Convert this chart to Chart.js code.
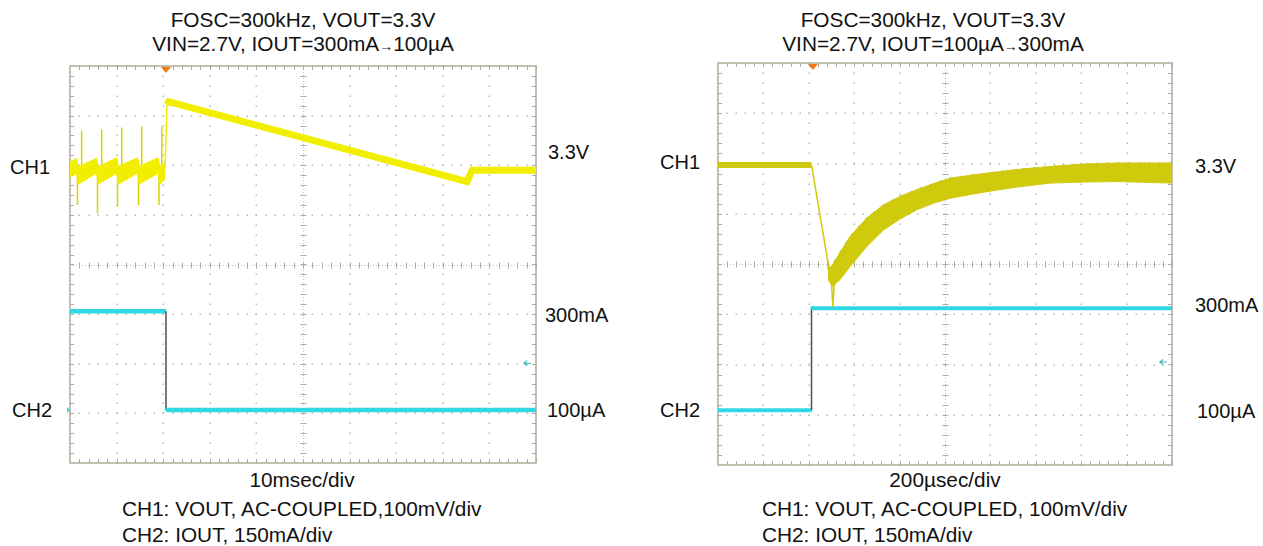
<!DOCTYPE html>
<html>
<head>
<meta charset="utf-8">
<script src="https://cdn.jsdelivr.net/npm/chart.js@4/dist/chart.umd.min.js"></script>
<style>
  body { margin: 0; width: 1263px; height: 546px; background: #fff; position: relative; overflow: hidden;
         font-family: "Liberation Sans", Arial, sans-serif; font-size: 20px; color: #111; }
  .t { position: absolute; white-space: nowrap; line-height: 1; }
  .big { font-size: 20.8px; }
  .c { transform: translateX(-50%); }
  .arr { font-size: 14px; }
  canvas { position: absolute; }
</style>
</head>
<body>
<div class="t c big" style="left:303px;top:10px">FOSC=300kHz, VOUT=3.3V</div>
<div class="t c big" style="left:303px;top:34px">VIN=2.7V, IOUT=300mA<span class="arr">&rarr;</span>100µA</div>
<div class="t" style="left:10px;top:157px">CH1</div>
<div class="t" style="left:12px;top:400px">CH2</div>
<div class="t" style="left:548px;top:142px">3.3V</div>
<div class="t" style="left:545px;top:305px">300mA</div>
<div class="t" style="left:547px;top:400px">100µA</div>
<div class="t c big" style="left:302px;top:470px">10msec/div</div>
<div class="t big" style="left:122px;top:499px">CH1: VOUT, AC-COUPLED,100mV/div</div>
<div class="t big" style="left:122px;top:525px">CH2: IOUT, 150mA/div</div>

<div class="t c big" style="left:933px;top:10px">FOSC=300kHz, VOUT=3.3V</div>
<div class="t c big" style="left:933px;top:34px">VIN=2.7V, IOUT=100µA<span class="arr">&rarr;</span>300mA</div>
<div class="t" style="left:660px;top:152px">CH1</div>
<div class="t" style="left:660px;top:400px">CH2</div>
<div class="t" style="left:1195px;top:156px">3.3V</div>
<div class="t" style="left:1195px;top:295px">300mA</div>
<div class="t" style="left:1197px;top:401px">100µA</div>
<div class="t c big" style="left:945px;top:470px">200µsec/div</div>
<div class="t big" style="left:762px;top:499px">CH1: VOUT, AC-COUPLED, 100mV/div</div>
<div class="t big" style="left:762px;top:525px">CH2: IOUT, 150mA/div</div>

<canvas id="left" width="474" height="405" style="left:66px;top:62px"></canvas>
<canvas id="right" width="462" height="410" style="left:714px;top:59px"></canvas>

<script>
// all values in screen divisions: x 0..10, y -4..+4

// left: IOUT 300mA -> 100uA, 10msec/div
const leftBandT  = [0.00, 0.14, 0.18, 0.57, 0.61, 1.00, 1.04, 1.45, 1.49, 1.89, 1.93, 2.04];
const leftBandHi = [2.06, 2.14, 1.97, 2.14, 1.97, 2.15, 1.98, 2.15, 1.98, 2.15, 1.98, 2.06];
const leftBandLo = [1.76, 1.84, 1.62, 1.84, 1.62, 1.84, 1.62, 1.84, 1.62, 1.84, 1.62, 1.72];
const leftSpikeT   = [0.16, 0.25, 0.59, 0.68, 1.02, 1.11, 1.47, 1.54, 1.91, 1.97];
const leftSpikeTip = [1.20, 2.70, 1.03, 2.72, 1.16, 2.76, 1.20, 2.78, 1.20, 2.78];
const leftCh1T = [2.04, 2.08, 2.12, 8.52, 8.63, 10];
const leftCh1V = [1.92, 3.22, 3.28, 1.67, 1.90, 1.90];
const leftCh2T = [0, 2.06, 2.06, 10];
const leftCh2V = [-0.94, -0.94, -2.93, -2.93];

// right: IOUT 100uA -> 300mA, 200usec/div
const rightCh1T = [0, 2.06, 2.50, 2.53, 2.56];
const rightCh1V = [1.97, 1.97, -0.38, -0.85, -0.40];
const rightBandT  = [2.42, 2.52, 2.70, 2.91, 3.28, 3.65, 4.02, 4.38, 4.75, 5.12, 5.85, 6.58, 7.32, 8.05, 8.79, 10];
const rightBandHi = [-0.10, -0.02, 0.25, 0.55, 0.92, 1.18, 1.35, 1.48, 1.60, 1.71, 1.80, 1.88, 1.94, 1.99, 2.01, 2.01];
const rightBandLo = [-0.30, -0.45, -0.30, -0.05, 0.35, 0.68, 0.90, 1.08, 1.21, 1.31, 1.43, 1.53, 1.61, 1.63, 1.64, 1.61];
const rightCh2T = [0, 2.06, 2.06, 2.09, 10];
const rightCh2V = [-2.91, -2.91, -0.85, -0.88, -0.88];

const YEL = '#f2ee00';
const OLIVE = '#cfca0c';
const CYAN = '#30d8e4';
const STEP = '#4a5058';
const SPECK = 'rgba(40,50,50,0.45)';

const pts = (xs, ys) => xs.map((x, i) => ({x: x, y: ys[i]}));

function spikes(ts, tips) {
  const out = [];
  ts.forEach((t, i) => { out.push({x: t, y: 1.9}, {x: t, y: tips[i]}, {x: t, y: null}); });
  return out;
}

// steep pieces are thin, flat pieces thick
const steep = (w, thin) => ctx => {
  const dx = Math.abs(ctx.p1.parsed.x - ctx.p0.parsed.x);
  const dy = Math.abs(ctx.p1.parsed.y - ctx.p0.parsed.y);
  return dy > dx * 2.5 ? thin : w;
};

const scopeGrid = {
  id: 'scopeGrid',
  beforeDatasetsDraw(chart) {
    const {ctx, chartArea: a, scales: {x, y}} = chart;
    ctx.save();
    ctx.fillStyle = '#b8b8b8';
    for (let i = 1; i < 10; i++) {
      if (i === 5) continue;
      const px = Math.round(x.getPixelForValue(i));
      for (let v = -4; v <= 4.001; v += 0.2) ctx.fillRect(px - 0.5, Math.round(y.getPixelForValue(v)) - 0.5, 1.5, 1.5);
    }
    for (let j = -3; j <= 3; j++) {
      if (j === 0) continue;
      const py = Math.round(y.getPixelForValue(j));
      for (let v = 0; v <= 10.001; v += 0.2) ctx.fillRect(Math.round(x.getPixelForValue(v)) - 0.5, py - 0.5, 1.5, 1.5);
    }
    // centre cross with minor ticks
    const cx = Math.round(x.getPixelForValue(5)) + 0.5, cy = Math.round(y.getPixelForValue(0)) + 0.5;
    ctx.strokeStyle = '#c2c2c2';
    ctx.lineWidth = 1;
    ctx.setLineDash([1, 2]);
    ctx.beginPath();
    ctx.moveTo(a.left, cy); ctx.lineTo(a.right, cy);
    ctx.moveTo(cx, a.top); ctx.lineTo(cx, a.bottom);
    ctx.stroke();
    ctx.setLineDash([]);
    ctx.strokeStyle = '#ababab';
    ctx.beginPath();
    for (let v = 0.2; v < 10; v += 0.2) {
      const px = Math.round(x.getPixelForValue(v)) + 0.5;
      ctx.moveTo(px, cy - 3); ctx.lineTo(px, cy + 3);
      ctx.moveTo(px, a.top); ctx.lineTo(px, a.top + 4);
      ctx.moveTo(px, a.bottom); ctx.lineTo(px, a.bottom - 4);
    }
    for (let v = -3.8; v < 4; v += 0.2) {
      const py = Math.round(y.getPixelForValue(v)) + 0.5;
      ctx.moveTo(cx - 3, py); ctx.lineTo(cx + 3, py);
      ctx.moveTo(a.left, py); ctx.lineTo(a.left + 4, py);
      ctx.moveTo(a.right, py); ctx.lineTo(a.right - 4, py);
    }
    ctx.stroke();
    ctx.strokeStyle = '#b2aa98';
    ctx.lineWidth = 1.5;
    ctx.strokeRect(a.left, a.top, a.right - a.left, a.bottom - a.top);
    ctx.restore();
  },
  afterDatasetsDraw(chart, args, opts) {
    const {ctx, chartArea: a, scales: {x, y}} = chart;
    ctx.save();
    // trigger marker
    const tx = x.getPixelForValue(opts.trigger);
    ctx.fillStyle = '#f07a1a';
    ctx.beginPath();
    ctx.moveTo(tx - 5, a.top + 1); ctx.lineTo(tx + 5, a.top + 1); ctx.lineTo(tx, a.top + 7);
    ctx.fill();
    // ch2 ground marker on the left edge
    if (opts.gnd !== null) {
      const gy = y.getPixelForValue(opts.gnd);
      ctx.fillStyle = CYAN;
      ctx.beginPath();
      ctx.moveTo(a.left - 3, gy - 3); ctx.lineTo(a.left, gy); ctx.lineTo(a.left - 3, gy + 3);
      ctx.fill();
    }
    // small arrow near right edge
    const ay = y.getPixelForValue(opts.arrow), ax = a.right - 12;
    ctx.strokeStyle = '#3cb8c4';
    ctx.lineWidth = 1.2;
    ctx.beginPath();
    ctx.moveTo(ax, ay); ctx.lineTo(ax + 7, ay);
    ctx.moveTo(ax + 3, ay - 2.5); ctx.lineTo(ax, ay); ctx.lineTo(ax + 3, ay + 2.5);
    ctx.stroke();
    ctx.restore();
  }
};

function scope(id, datasets, marks) {
  return new Chart(document.getElementById(id), {
    type: 'line',
    data: {datasets: datasets},
    options: {
      responsive: false,
      animation: false,
      layout: {padding: 4},
      elements: {point: {radius: 0}, line: {tension: 0}},
      scales: {
        x: {type: 'linear', min: 0, max: 10, display: false},
        y: {type: 'linear', min: -4, max: 4, display: false}
      },
      plugins: {legend: {display: false}, tooltip: {enabled: false}, scopeGrid: marks}
    },
    plugins: [scopeGrid]
  });
}

scope('left', [
  {data: pts(leftBandT, leftBandHi), borderColor: YEL, borderWidth: 1, fill: false},
  {data: pts(leftBandT, leftBandLo), borderColor: YEL, borderWidth: 1, backgroundColor: YEL, fill: '-1'},
  {data: spikes(leftSpikeT, leftSpikeTip), borderColor: '#d8d400', borderWidth: 1.5, spanGaps: false},
  {data: pts(leftCh1T, leftCh1V), borderColor: YEL, borderWidth: 7,
   segment: {borderWidth: steep(7, 1.5)}},
  {data: pts(leftCh1T.slice(2, 4), leftCh1V.slice(2, 4).map(v => v - 0.04)), borderColor: SPECK, borderWidth: 1.5,
   borderDash: [1.5, 6]},
  {data: pts(leftCh2T, leftCh2V), borderColor: CYAN, borderWidth: 4.5,
   segment: {borderColor: ctx => ctx.p0.parsed.x === ctx.p1.parsed.x ? STEP : CYAN, borderWidth: steep(4.5, 1.5)}},
  {data: pts(leftCh2T.slice(2), leftCh2V.slice(2)), borderColor: SPECK, borderWidth: 1, borderDash: [1, 9]}
], {trigger: 2.06, gnd: -2.93, arrow: -1.99});

scope('right', [
  {data: pts(rightBandT, rightBandHi), borderColor: OLIVE, borderWidth: 1, fill: false},
  {data: pts(rightBandT, rightBandLo), borderColor: OLIVE, borderWidth: 1, backgroundColor: OLIVE, fill: '-1'},
  {data: pts(rightBandT, rightBandHi), borderColor: 'rgba(60,60,10,0.6)', borderWidth: 1.5, borderDash: [1.5, 9]},
  {data: pts(rightCh1T, rightCh1V), borderColor: OLIVE, borderWidth: 6,
   segment: {borderWidth: steep(6, 1.5)}},
  {data: pts(rightCh2T, rightCh2V), borderColor: CYAN, borderWidth: 4,
   segment: {borderColor: ctx => ctx.p0.parsed.x === ctx.p1.parsed.x ? STEP : CYAN, borderWidth: steep(4, 1.5)}},
  {data: pts(rightCh2T.slice(3), rightCh2V.slice(3)), borderColor: SPECK, borderWidth: 1, borderDash: [1, 11]}
], {trigger: 2.09, gnd: null, arrow: -1.95});
</script>
</body>
</html>
